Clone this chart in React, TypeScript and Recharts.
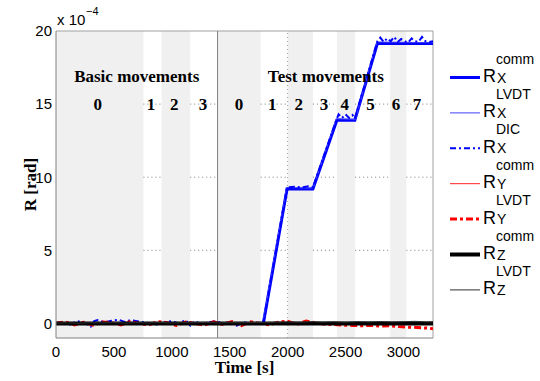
import React from 'react';
import {
  LineChart,
  Line,
  XAxis,
  YAxis,
  ReferenceArea,
  ReferenceLine,
  ReferenceDot,
  Label,
} from 'recharts';

// ---- axes -------------------------------------------------------------
const xTicks = [0, 500, 1000, 1500, 2000, 2500, 3000];
const yTicks = [0, 5, 10, 15, 20];
const tEnd = 3255;
const yMin = -1;
const yMax = 20;
const gridLevels = [5, 10, 15];
const gridTimes = [2000];

// ---- phases -----------------------------------------------------------
const shadedBands: [number, number][] = [
  [0, 755],
  [911, 1159],
  [1395, 1767],
  [2000, 2218],
  [2425, 2583],
  [2885, 3025],
];
const phaseDivider = 1395;
const groupTitles = ['Basic movements', 'Test movements'];
const groupTitleTimes = [697, 2330];
const groupTitleLevel = 16.9;
const phaseLabels = ['0', '1', '2', '3', '0', '1', '2', '3', '4', '5', '6', '7'];
const phaseLabelTimes = [360, 820, 1020, 1270, 1580, 1868, 2096, 2313, 2494, 2716, 2935, 3117];
const phaseLabelLevel = 15;

// ---- series: [time s, rotation x 1e-4 rad] ---------------------------
const rxComm: [number, number][] = [
  [0, 0], [1790, 0], [1995, 9.2], [2218, 9.2], [2425, 13.9], [2580, 13.9], [2775, 19.15], [3255, 19.15],
];
const rxLvdt: [number, number][] = [
  [0, 0.02], [1785, 0.02], [1990, 9.3], [2220, 9.25], [2420, 14.0], [2585, 13.95], [2770, 19.25], [3255, 19.2],
];
const rxDic: [number, number][] = [
  [0, 0.02], [60, 0.08], [120, -0.08], [180, 0.15], [240, 0.08], [300, -0.22], [330, 0.15], [360, 0.22],
  [420, 0.08], [480, 0.18], [540, 0.25], [600, 0.08], [640, 0.22], [700, 0.15], [760, 0.08], [820, 0],
  [880, -0.1], [940, 0.08], [1000, 0.15], [1060, 0], [1120, 0.22], [1160, -0.15], [1200, 0.15], [1260, -0.1],
  [1320, 0.08], [1380, 0.15], [1440, 0], [1500, 0.08], [1560, -0.15], [1620, 0.08], [1680, 0], [1740, 0.05],
  [1790, 0], [1995, 9.3], [2060, 9.35], [2120, 9.3], [2180, 9.38], [2218, 9.3], [2425, 14.0], [2440, 14.3],
  [2470, 14.05], [2500, 14.3], [2530, 14.05], [2560, 14.25], [2580, 14.0], [2775, 19.3], [2800, 19.55],
  [2830, 19.25], [2860, 19.5], [2890, 19.3], [2920, 19.6], [2950, 19.25], [2980, 19.45], [3010, 19.3],
  [3040, 19.2], [3070, 19.5], [3100, 19.3], [3130, 19.25], [3160, 19.6], [3190, 19.3], [3220, 19.25], [3255, 19.3],
];
const ryComm: [number, number][] = [
  [0, 0], [3255, 0],
];
const ryLvdt: [number, number][] = [
  [0, 0], [80, 0.1], [160, -0.1], [240, 0.08], [320, -0.12], [400, 0.1], [480, 0.05], [560, -0.1],
  [640, 0.12], [720, 0], [800, -0.1], [880, 0.12], [960, 0.05], [1040, -0.14], [1120, 0.1], [1200, 0],
  [1280, -0.12], [1360, 0.1], [1440, -0.08], [1520, 0.12], [1600, -0.15], [1680, 0.1], [1760, 0],
  [1840, -0.1], [1920, 0.08], [2000, 0.15], [2080, -0.06], [2160, 0.16], [2240, 0.04], [2320, -0.06],
  [2400, -0.08], [2480, -0.12], [2560, -0.14], [2640, -0.16], [2720, -0.14], [2800, -0.18], [2880, -0.16],
  [2960, -0.22], [3040, -0.26], [3120, -0.28], [3200, -0.32], [3255, -0.36],
];
const rzComm: [number, number][] = [
  [0, 0], [3255, 0],
];
const rzLvdt: [number, number][] = [
  [0, 0.02], [100, 0.04], [200, 0.01], [300, 0.05], [400, 0.03], [500, 0.06], [600, 0.02], [700, 0.05],
  [800, 0.03], [900, 0.06], [1000, 0.02], [1100, 0.05], [1200, 0.04], [1300, 0.07], [1400, 0.03],
  [1500, 0.05], [1600, 0.04], [1700, 0.06], [1800, 0.05], [1900, 0.08], [2000, 0.1], [2100, 0.08],
  [2200, 0.12], [2300, 0.09], [2400, 0.11], [2500, 0.08], [2600, 0.12], [2700, 0.1], [2800, 0.13],
  [2900, 0.1], [3000, 0.12], [3100, 0.14], [3200, 0.1], [3255, 0.11],
];

type SeriesStyle = {
  key: string;
  data: [number, number][];
  color: string;
  width: number;
  dash?: string;
  sup: string;
  sub: string;
};

const series: SeriesStyle[] = [
  { key: 'rxComm', data: rxComm, color: '#0000ff', width: 3, sup: 'comm', sub: 'X' },
  { key: 'rxLvdt', data: rxLvdt, color: '#4040ff', width: 1, sup: 'LVDT', sub: 'X' },
  { key: 'rxDic', data: rxDic, color: '#0000ff', width: 2, dash: '6 3 2 3', sup: 'DIC', sub: 'X' },
  { key: 'ryComm', data: ryComm, color: '#ff2020', width: 1, sup: 'comm', sub: 'Y' },
  { key: 'ryLvdt', data: ryLvdt, color: '#ff0000', width: 3, dash: '7 3 3 3', sup: 'LVDT', sub: 'Y' },
  { key: 'rzComm', data: rzComm, color: '#000000', width: 4, sup: 'comm', sub: 'Z' },
  { key: 'rzLvdt', data: rzLvdt, color: '#303030', width: 1, sup: 'LVDT', sub: 'Z' },
];

const toPoints = (d: [number, number][]) => d.map(([t, v]) => ({ t, v }));

// unshaded stretches between bands, where the dotted grid shows through
const openSpans: [number, number][] = (() => {
  const spans: [number, number][] = [];
  let cursor = 0;
  for (const [a, b] of shadedBands) {
    if (a > cursor) spans.push([cursor, a]);
    cursor = Math.max(cursor, b);
  }
  if (cursor < tEnd) spans.push([cursor, tEnd]);
  return spans;
})();

const sansFont = 'Liberation Sans, Arial, Helvetica, sans-serif';
const serifFont = 'Liberation Serif, Times New Roman, serif';
const axisGray = '#808080';

const centeredText = (text: string, size: number) => (props: any) => {
  const vb = props.viewBox || {};
  const x = (vb.x ?? 0) + (vb.width ?? 0) / 2;
  const y = (vb.y ?? 0) + (vb.height ?? 0) / 2;
  return (
    <text
      x={x}
      y={y}
      textAnchor="middle"
      dominantBaseline="central"
      fontFamily={serifFont}
      fontWeight="bold"
      fontSize={size}
      fill="#000"
    >
      {text}
    </text>
  );
};

const legendTop = 77.5;
const legendStep = 35.4;

export default function App() {
  return (
    <div style={{ position: 'absolute', left: 0, top: 0, width: 540, height: 381, background: '#fff' }}>
      <LineChart
        width={540}
        height={381}
        margin={{ top: 31, right: 107, bottom: 12, left: 8 }}
      >
        <XAxis
          dataKey="t"
          type="number"
          domain={[0, tEnd]}
          ticks={xTicks}
          allowDataOverflow
          height={31}
          stroke={axisGray}
          tickLine={false}
          tickSize={0}
          tickMargin={8}
          tick={{ fontSize: 15, fontFamily: sansFont, fill: '#000' }}
        >
          <Label
            content={(p: any) => {
              const vb = p.viewBox || {};
              return (
                <text
                  x={vb.x + vb.width / 2}
                  y={373}
                  textAnchor="middle"
                  fontFamily={serifFont}
                  fontWeight="bold"
                  fontSize={17}
                  fill="#000"
                >
                  Time [s]
                </text>
              );
            }}
          />
        </XAxis>
        <YAxis
          dataKey="v"
          type="number"
          domain={[yMin, yMax]}
          ticks={yTicks}
          allowDataOverflow
          width={48}
          stroke={axisGray}
          tickLine={false}
          tickSize={0}
          tickMargin={4}
          tick={{ fontSize: 15, fontFamily: sansFont, fill: '#000' }}
        >
          <Label
            content={(p: any) => {
              const vb = p.viewBox || {};
              const cy = vb.y + vb.height / 2;
              return (
                <text
                  x={30}
                  y={cy}
                  transform={`rotate(-90 30 ${cy})`}
                  textAnchor="middle"
                  dominantBaseline="central"
                  fontFamily={serifFont}
                  fontWeight="bold"
                  fontSize={17}
                  fill="#000"
                >
                  R [rad]
                </text>
              );
            }}
          />
        </YAxis>

        {shadedBands.map(([a, b], i) => (
          <ReferenceArea
            key={`band-${i}`}
            x1={a}
            x2={b}
            y1={yMin}
            y2={yMax}
            fill="#f0f0f0"
            fillOpacity={1}
            stroke="none"
          />
        ))}

        {gridLevels.flatMap((lvl) =>
          openSpans.map(([a, b], i) => (
            <ReferenceLine
              key={`grid-${lvl}-${i}`}
              segment={[{ x: a, y: lvl }, { x: b, y: lvl }]}
              stroke="#7a7a7a"
              strokeWidth={1}
              strokeDasharray="1 3"
            />
          ))
        )}
        {gridTimes.map((t) => (
          <ReferenceLine
            key={`vgrid-${t}`}
            x={t}
            stroke="#9a9a9a"
            strokeWidth={1}
            strokeDasharray="1 3"
          />
        ))}

        <ReferenceLine y={yMax} stroke="#a0a0a0" strokeWidth={1} />
        <ReferenceLine x={tEnd} stroke="#a0a0a0" strokeWidth={1} />
        <ReferenceLine x={phaseDivider} stroke={axisGray} strokeWidth={1} />

        {groupTitles.map((title, i) => (
          <ReferenceDot
            key={`title-${i}`}
            x={groupTitleTimes[i]}
            y={groupTitleLevel}
            r={0}
            fill="none"
            stroke="none"
            label={centeredText(title, 17)}
          />
        ))}
        {phaseLabels.map((lbl, i) => (
          <ReferenceDot
            key={`phase-${i}`}
            x={phaseLabelTimes[i]}
            y={phaseLabelLevel}
            r={0}
            fill="none"
            stroke="none"
            label={centeredText(lbl, 17)}
          />
        ))}

        {series.map((s) => (
          <Line
            key={s.key}
            data={toPoints(s.data)}
            dataKey="v"
            type="linear"
            stroke={s.color}
            strokeWidth={s.width}
            strokeDasharray={s.dash}
            dot={false}
            activeDot={false}
            isAnimationActive={false}
          />
        ))}
      </LineChart>

      <svg
        width={540}
        height={381}
        style={{ position: 'absolute', left: 0, top: 0, pointerEvents: 'none' }}
      >
        <text x={57} y={25} fontFamily={sansFont} fontSize={15} fill="#000">
          x 10
        </text>
        <text x={86} y={15} fontFamily={sansFont} fontSize={11} fill="#000">
          −4
        </text>

        {series.map((s, i) => {
          const y = legendTop + i * legendStep;
          return (
            <g key={`leg-${s.key}`}>
              <line
                x1={450}
                x2={480}
                y1={y}
                y2={y}
                stroke={s.color}
                strokeWidth={s.width}
                strokeDasharray={s.dash}
              />
              <text x={483} y={y + 4.5} fontFamily={sansFont} fontSize={18} fill="#000">
                R
              </text>
              <text x={496} y={y - 14} fontFamily={sansFont} fontSize={14} fill="#000">
                {s.sup}
              </text>
              <text x={497} y={y + 5} fontFamily={sansFont} fontSize={14} fill="#000">
                {s.sub}
              </text>
            </g>
          );
        })}
      </svg>
    </div>
  );
}
